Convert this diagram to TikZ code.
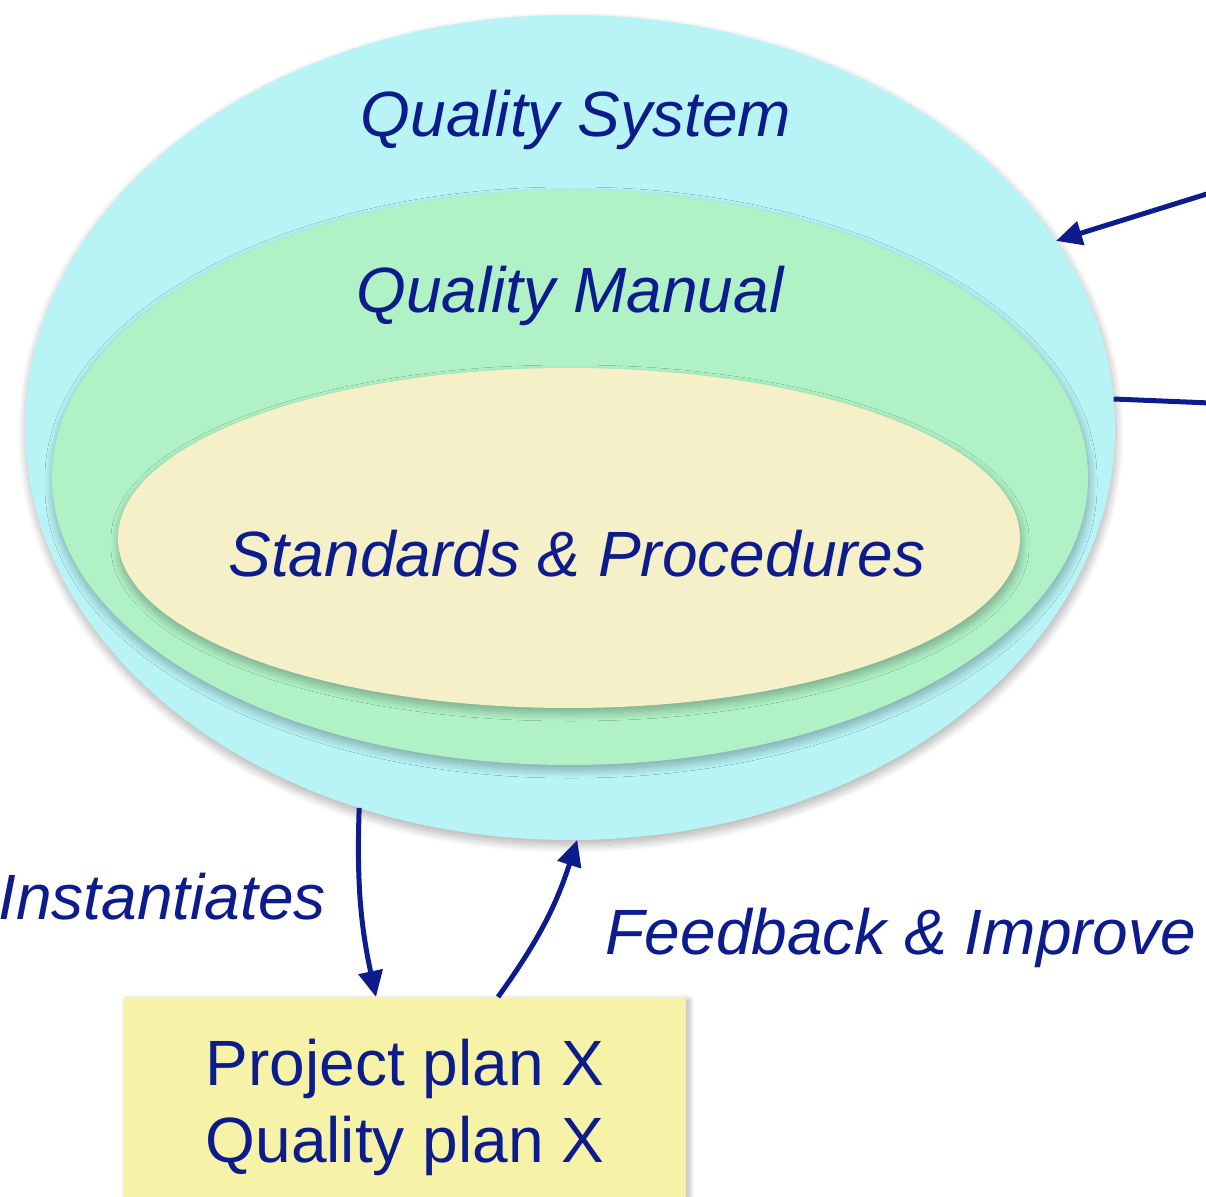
\documentclass[tikz,border=0pt]{standalone}
\usepackage{fontspec}
\setmainfont{Liberation Sans}
\usetikzlibrary{shapes.geometric,arrows.meta,shadows.blur,calc}
\definecolor{txtblue}{RGB}{12,28,140}
\definecolor{syscyan}{RGB}{184,243,245}
\definecolor{mangreen}{RGB}{176,242,198}
\definecolor{stdyellow}{RGB}{245,240,200}
\definecolor{boxyellow}{RGB}{246,242,168}
\tikzset{
  zone/.style={ellipse, inner sep=0pt, outer sep=0pt, draw=none,
    blur shadow={shadow xshift=0.5pt, shadow yshift=-2.5pt, shadow blur radius=4pt,
      shadow blur steps=16, shadow blur extra rounding=2pt, shadow opacity=30}},
  itlabel/.style={text=txtblue, font=\fontsize{32}{38}\selectfont\itshape, inner sep=0pt, anchor=base},
  uplabel/.style={text=txtblue, font=\fontsize{32}{38}\selectfont, inner sep=0pt, anchor=base},
  planbox/.style={rectangle, fill=boxyellow, inner sep=0pt, outer sep=0pt, anchor=north west,
    minimum width=281pt, minimum height=115pt,
    blur shadow={shadow xshift=1.5pt, shadow yshift=-1.5pt, shadow blur radius=3pt,
      shadow blur steps=12, shadow opacity=30}},
  link/.style={draw=txtblue, line width=2.5pt, -{Triangle[length=13pt,width=12pt]}},
  plainlink/.style={draw=txtblue, line width=2.5pt}
}
\begin{document}
\begin{tikzpicture}[x=0.5pt,y=-0.5pt]
\useasboundingbox (0,0) rectangle (1206,1197);
% ellipses
\node[zone, fill=syscyan, minimum width=545pt, minimum height=412.5pt] (sys) at (570,427.5) {};
\node[zone, fill=mangreen, minimum width=518pt, minimum height=287.5pt] (man) at (570,477.5) {};
\node[zone, fill=stdyellow, minimum width=451pt, minimum height=170pt] (std) at (569,538) {};
% labels
\node[itlabel] (systxt) at (576,137) {Quality System};
\node[itlabel] (mantxt) at (570,313) {Quality Manual};
\node[itlabel] (stdtxt) at (577,577) {Standards \& Procedures};
% plan box
\node[planbox] (box) at (124,997) {};
\node[uplabel] (pp) at (405,1085) {Project plan X};
\node[uplabel] (qp) at (405,1162) {Quality plan X};
% edge labels
\node[itlabel, anchor=base west] (inst) at (-2,920) {Instantiates};
\node[itlabel] (fb) at (901,955) {Feedback \& Improve};
% connectors
\coordinate (inA) at (1210,193);
\coordinate (inB) at (1210,403);
\draw[link] (inA) -- (sys.21.7);
\draw[plainlink] (inB) -- (sys.3.5);
\draw[link] (sys.241.7) to[bend right=7] ([xshift=126pt]box.north west);
\draw[link] ([xshift=187pt]box.north west) to[bend right=9] (sys.271);
\end{tikzpicture}
\end{document}
